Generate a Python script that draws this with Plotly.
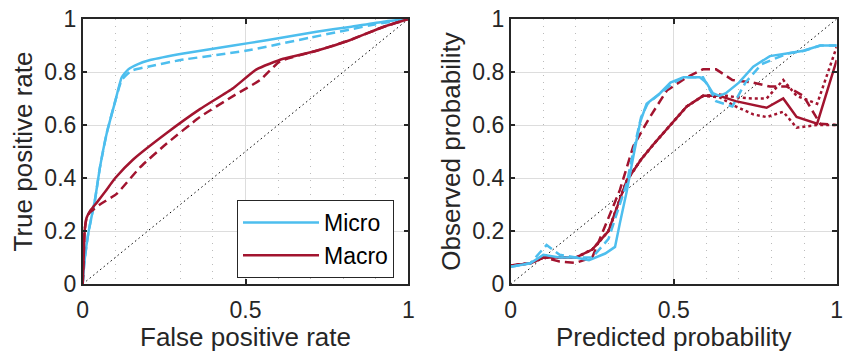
import plotly.graph_objects as go

BLUE = "#4DBEEE"
RED = "#A2142F"
AX = "#262626"

# ---- ROC data (left panel) ----
roc_micro_fpr = [0, 0.005, 0.017, 0.038, 0.053, 0.074, 0.10, 0.12, 0.14, 0.17, 0.207, 0.309, 0.463, 0.565, 0.718, 0.82, 0.923, 1.0]
roc_micro_tpr = [0, 0.08, 0.19, 0.32, 0.44, 0.57, 0.69, 0.78, 0.81, 0.83, 0.845, 0.87, 0.90, 0.92, 0.952, 0.97, 0.99, 1.0]
roc_micro_d_fpr = [0, 0.005, 0.017, 0.038, 0.053, 0.074, 0.10, 0.12, 0.15, 0.2, 0.3, 0.5, 0.7, 0.9, 1.0]
roc_micro_d_tpr = [0, 0.08, 0.19, 0.32, 0.44, 0.57, 0.69, 0.77, 0.805, 0.82, 0.845, 0.88, 0.93, 0.98, 1.0]
roc_macro_fpr = [0, 0.003, 0.006, 0.012, 0.025, 0.045, 0.07, 0.10, 0.155, 0.258, 0.36, 0.463, 0.534, 0.616, 0.718, 0.82, 0.923, 1.0]
roc_macro_tpr = [0, 0.10, 0.20, 0.25, 0.28, 0.31, 0.35, 0.40, 0.47, 0.57, 0.66, 0.74, 0.81, 0.85, 0.88, 0.92, 0.97, 1.0]
roc_macro_d_fpr = [0, 0.003, 0.006, 0.012, 0.022, 0.053, 0.104, 0.176, 0.258, 0.36, 0.463, 0.545, 0.606, 0.718, 0.82, 0.923, 1.0]
roc_macro_d_tpr = [0, 0.10, 0.20, 0.25, 0.27, 0.30, 0.34, 0.44, 0.53, 0.63, 0.71, 0.77, 0.84, 0.88, 0.92, 0.97, 1.0]

# ---- Calibration data (right panel) ----
cal_micro_x = [0, 0.06, 0.10, 0.15, 0.20, 0.24, 0.29, 0.32, 0.335, 0.356, 0.376, 0.397, 0.417, 0.458, 0.49, 0.53, 0.58, 0.60, 0.62, 0.64, 0.66, 0.70, 0.744, 0.795, 0.847, 0.898, 0.949, 1.0]
cal_micro_y = [0.065, 0.078, 0.11, 0.10, 0.10, 0.09, 0.115, 0.14, 0.23, 0.35, 0.48, 0.61, 0.68, 0.72, 0.76, 0.78, 0.78, 0.76, 0.72, 0.71, 0.72, 0.76, 0.82, 0.86, 0.87, 0.88, 0.90, 0.90]
cal_micro_d_x = [0, 0.06, 0.11, 0.15, 0.20, 0.25, 0.30, 0.33, 0.356, 0.376, 0.40, 0.42, 0.46, 0.50, 0.53, 0.59, 0.63, 0.68, 0.72, 0.77, 0.85, 0.90, 0.95, 1.0]
cal_micro_d_y = [0.065, 0.078, 0.147, 0.11, 0.10, 0.10, 0.17, 0.28, 0.38, 0.50, 0.63, 0.68, 0.72, 0.76, 0.78, 0.78, 0.69, 0.67, 0.76, 0.83, 0.87, 0.88, 0.90, 0.90]
cal_macro_x = [0, 0.06, 0.10, 0.15, 0.20, 0.25, 0.30, 0.335, 0.356, 0.40, 0.44, 0.49, 0.54, 0.59, 0.64, 0.69, 0.744, 0.785, 0.836, 0.877, 0.94, 1.0]
cal_macro_y = [0.07, 0.078, 0.10, 0.10, 0.10, 0.13, 0.20, 0.32, 0.39, 0.47, 0.53, 0.60, 0.67, 0.71, 0.71, 0.69, 0.675, 0.665, 0.70, 0.63, 0.605, 0.845]
cal_macro_hi_y = [0.07, 0.078, 0.10, 0.10, 0.10, 0.13, 0.20, 0.32, 0.39, 0.47, 0.53, 0.60, 0.67, 0.71, 0.715, 0.705, 0.70, 0.70, 0.77, 0.71, 0.68, 0.895]
cal_macro_lo_y = [0.07, 0.078, 0.10, 0.10, 0.10, 0.13, 0.20, 0.32, 0.39, 0.47, 0.53, 0.60, 0.67, 0.71, 0.705, 0.67, 0.64, 0.63, 0.65, 0.59, 0.60, 0.60]
cal_macro_d_x = [0, 0.06, 0.10, 0.15, 0.20, 0.25, 0.29, 0.335, 0.376, 0.427, 0.479, 0.54, 0.59, 0.63, 0.68, 0.744, 0.795, 0.847, 0.898, 0.949, 1.0]
cal_macro_d_y = [0.07, 0.078, 0.10, 0.085, 0.08, 0.10, 0.22, 0.355, 0.52, 0.63, 0.73, 0.78, 0.81, 0.81, 0.77, 0.76, 0.745, 0.745, 0.71, 0.605, 0.60]

diag = [0, 1]

fig = go.Figure()

def line(x, y, color, dash="solid", width=2.5, xa="x", ya="y", name=None, legend=False, shape="linear"):
    fig.add_trace(go.Scatter(x=x, y=y, mode="lines", xaxis=xa, yaxis=ya, name=name,
                             showlegend=legend,
                             line=dict(color=color, dash=dash, width=width, shape=shape, smoothing=0.5)))

# Left
line(diag, diag, "black", dash="1.5px,3px", width=1)
line(roc_micro_d_fpr, roc_micro_d_tpr, BLUE, dash="9px,5px", shape="spline")
line(roc_micro_fpr, roc_micro_tpr, BLUE, name="Micro", legend=True, shape="spline")
line(roc_macro_d_fpr, roc_macro_d_tpr, RED, dash="9px,5px", shape="spline")
line(roc_macro_fpr, roc_macro_tpr, RED, name="Macro", legend=True, shape="spline")

# Right
line(diag, diag, "black", dash="1.5px,3px", width=1, xa="x2", ya="y2")
line(cal_macro_x, cal_macro_hi_y, RED, dash="3px,3px", xa="x2", ya="y2")
line(cal_macro_x, cal_macro_lo_y, RED, dash="3px,3px", xa="x2", ya="y2")
line(cal_macro_d_x, cal_macro_d_y, RED, dash="9px,5px", xa="x2", ya="y2")
line(cal_macro_x, cal_macro_y, RED, xa="x2", ya="y2")
line(cal_micro_d_x, cal_micro_d_y, BLUE, dash="9px,5px", xa="x2", ya="y2")
line(cal_micro_x, cal_micro_y, BLUE, xa="x2", ya="y2")

FAM = "Liberation Sans, Arial, sans-serif"

def xaxis(domain, anchor, title):
    return dict(domain=domain, anchor=anchor, range=[0, 1], tickvals=[0, 0.5, 1],
                ticktext=["0", "0.5", "1"], ticks="inside", ticklen=5, tickcolor=AX, tickwidth=1.5,
                tickfont=dict(size=23, family=FAM, color=AX), ticklabelstandoff=5,
                ticklabeloverflow="allow",
                showline=True, linecolor=AX, linewidth=1.5, automargin=False,
                mirror="allticks", showgrid=True, gridcolor="#DDDDDD", gridwidth=1, zeroline=False,
                minor=dict(dtick=0.1, tick0=0, showgrid=True, gridcolor="#BBBBBB", griddash="1px,6px", ticks=""),
                title=dict(text=title, font=dict(size=26, family=FAM, color=AX), standoff=4),
                fixedrange=True)

def yaxis(domain, anchor, title):
    return dict(domain=domain, anchor=anchor, range=[0, 1], tickvals=[0, 0.2, 0.4, 0.6, 0.8, 1],
                ticktext=["0", "0.2", "0.4", "0.6", "0.8", "1"], ticks="inside", ticklen=5, tickcolor=AX, tickwidth=1.5,
                tickfont=dict(size=23, family=FAM, color=AX), ticklabelstandoff=0,
                ticklabeloverflow="allow",
                showline=True, linecolor=AX, linewidth=1.5, automargin=False,
                mirror="allticks", showgrid=True, gridcolor="#DDDDDD", gridwidth=1, zeroline=False,
                title=dict(text=title, font=dict(size=26, family=FAM, color=AX), standoff=4),
                fixedrange=True)

W, H = 843, 352
ydom = [1 - 284 / H, 1 - 19 / H]
fig.update_layout(
    width=W, height=H, margin=dict(l=0, r=0, t=0, b=0, autoexpand=False),
    paper_bgcolor="white", plot_bgcolor="white",
    xaxis=xaxis([82.7 / W, 408.3 / W], "y", "False positive rate"),
    yaxis=yaxis(ydom, "x", "True positive rate"),
    xaxis2=xaxis([510.7 / W, 836.7 / W], "y2", "Predicted probability"),
    yaxis2=yaxis(ydom, "x2", "Observed probability"),
    legend=dict(x=394 / W, y=1 - 200 / H, xanchor="right", yanchor="top",
                bgcolor="white", bordercolor=AX, borderwidth=1,
                font=dict(size=23, family=FAM, color="black"), itemwidth=76, tracegroupgap=0),
    font=dict(family=FAM, color=AX),
)

fig.write_html("out.html")
